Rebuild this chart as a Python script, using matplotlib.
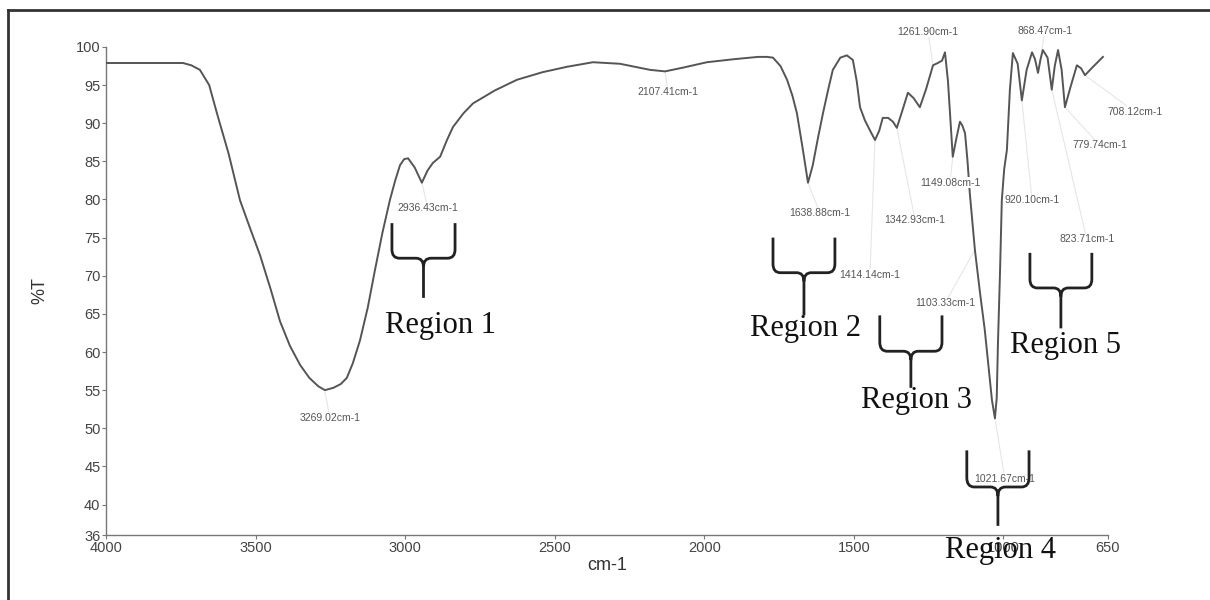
import matplotlib.pyplot as plt
from matplotlib.path import Path
from matplotlib.patches import PathPatch
from matplotlib.lines import Line2D

# FTIR spectrum (wavenumber cm-1, %T)
wavenumber = [4000, 3900, 3800, 3743, 3715, 3686, 3655, 3629, 3590, 3552, 3518, 3485, 3450,
              3418, 3385, 3351, 3320, 3290, 3268, 3240, 3215, 3195, 3175, 3151, 3125,
              3101, 3076, 3051, 3033, 3017, 3003, 2990, 2968, 2944, 2925, 2907, 2883,
              2860, 2840, 2805, 2773, 2700, 2626, 2540, 2459, 2372, 2282, 2220, 2181,
              2131, 2070, 1991, 1900, 1820, 1790, 1770, 1745, 1723, 1705, 1690, 1670,
              1653, 1637, 1620, 1603, 1585, 1570, 1545, 1523, 1503, 1490, 1479, 1463,
              1445, 1429, 1415, 1403, 1385, 1369, 1356, 1338, 1319, 1300, 1279, 1258,
              1235, 1219, 1205, 1195, 1185, 1169, 1157, 1145, 1137, 1128, 1120, 1112,
              1095, 1078, 1062, 1048, 1038, 1028, 1022, 1018, 1011, 1005, 997, 988,
              978, 968, 952, 938, 922, 904, 894, 884, 876, 868, 852, 838, 828, 817,
              805, 794, 775, 754, 740, 727, 700, 667]
transmittance = [97.9, 97.9, 97.9, 97.9, 97.6, 97.0, 95.0, 91.3, 86.0, 79.9, 76.2, 72.7, 68.3,
                 64.0, 60.8, 58.3, 56.6, 55.5, 55.0, 55.3, 55.8, 56.6, 58.5, 61.5, 65.8,
                 70.7, 75.6, 79.9, 82.5, 84.5, 85.3, 85.4, 84.2, 82.2, 83.8, 84.8, 85.6,
                 87.8, 89.5, 91.3, 92.6, 94.3, 95.7, 96.7, 97.4, 98.0, 97.8, 97.3, 97.0,
                 96.8, 97.3, 98.0, 98.4, 98.7, 98.7, 98.6, 97.5, 95.7, 93.6, 91.3, 86.5,
                 82.2, 84.5, 88.0, 91.3, 94.5, 97.0, 98.6, 98.9, 98.3, 95.5, 92.1, 90.4,
                 89.0, 87.8, 89.0, 90.7, 90.7, 90.2, 89.4, 91.6, 94.0, 93.3, 92.1, 94.5,
                 97.6, 97.9, 98.2, 99.3, 95.5, 85.6, 88.0, 90.2, 89.7, 88.7, 85.2, 80.8,
                 73.4, 67.8, 62.9, 57.5, 53.7, 51.3, 54.0, 61.0, 70.5, 79.9, 84.0, 86.5,
                 94.4, 99.2, 97.8, 93.0, 97.0, 99.3, 98.4, 96.6, 98.3, 99.6, 98.6, 94.4,
                 97.5, 99.6, 97.0, 92.1, 94.8, 97.6, 97.2, 96.3, 97.4, 98.7]

peak_labels = ['3269.02cm-1', '2936.43cm-1', '2107.41cm-1', '1638.88cm-1', '1414.14cm-1',
               '1342.93cm-1', '1261.90cm-1', '1149.08cm-1', '1103.33cm-1', '1021.67cm-1',
               '920.10cm-1', '868.47cm-1', '823.71cm-1', '779.74cm-1', '708.12cm-1']
label_x = [3251, 2924, 2121, 1613, 1446, 1295, 1252, 1178, 1195, 995, 904, 861, 721, 677, 560]
label_y = [51.3, 78.9, 94.1, 78.2, 70.1, 77.3, 102.0, 82.2, 66.4, 43.4, 79.9, 102.1, 74.8, 87.1, 91.5]
peak_x = [3269, 2944, 2131, 1653, 1429, 1356, 1235, 1169, 1095, 1028, 938, 884, 838, 794, 727]
peak_y = [55.0, 82.2, 96.8, 82.2, 87.8, 89.4, 97.6, 85.6, 73.4, 51.3, 93.0, 96.6, 94.4, 92.1, 96.3]

region_names = ['Region 1', 'Region 2', 'Region 3', 'Region 4', 'Region 5']
# brace: left, right, top, bar, bottom ; text x, text y
brace_left = [3044, 1770, 1413, 1122, 911]
brace_right = [2833, 1563, 1205, 914, 704]
brace_top = [76.9, 75.0, 64.8, 47.1, 73.0]
brace_bar = [72.3, 70.4, 60.1, 42.3, 68.4]
brace_bot = [67.1, 64.8, 55.3, 37.2, 63.1]
text_x = [2883, 1663, 1289, 1011, 791]
text_y = [63.5, 63.1, 53.7, 34.0, 60.9]

fig = plt.figure(figsize=(12.1, 6), dpi=100)
ax = fig.add_axes([0.0876, 0.1083, 0.8281, 0.8134])

ax.plot(wavenumber, transmittance, color='#555555', lw=1.4, solid_joinstyle='round', zorder=3)

ax.set_xlim(4000, 650)
ax.set_ylim(36, 100)
ax.set_xticks([4000, 3500, 3000, 2500, 2000, 1500, 1000, 650])
ax.set_yticks([36, 40, 45, 50, 55, 60, 65, 70, 75, 80, 85, 90, 95, 100])
for s in ['top', 'right']:
    ax.spines[s].set_visible(False)
for s in ['left', 'bottom']:
    ax.spines[s].set_color('#777777')
    ax.spines[s].set_linewidth(1.0)
ax.tick_params(direction='out', length=3, color='#777777', labelsize=10.5,
               labelcolor='#444444', pad=1)
for t in ax.get_xticklabels() + ax.get_yticklabels():
    t.set_family('Liberation Sans')
ax.set_xlabel('cm-1', fontsize=13, family='Liberation Sans', color='#333333', labelpad=2)
ax.set_ylabel('%T', fontsize=13, family='Liberation Sans', color='#333333', labelpad=20)

# faint leader lines and peak labels
for lab, x, y, px, py in zip(peak_labels, label_x, label_y, peak_x, peak_y):
    ax.plot([px, x], [py, y], color='#e6e6e6', lw=0.8, zorder=1, clip_on=False)
    ax.text(x, y, lab, fontsize=7.5, color='#555555', ha='center', va='center',
            family='Liberation Sans', clip_on=False, zorder=4,
            bbox=dict(boxstyle='square,pad=0.05', fc='white', ec='none'))

for i, name in enumerate(region_names):
    L, R = brace_left[i], brace_right[i]
    C = (L + R) / 2
    top, bar, bot = brace_top[i], brace_bar[i], brace_bot[i]
    dx = (L - R) * 0.12
    dy = (top - bar) * 0.25
    verts = [(L, top), (L, bar + dy), (L, bar), (L - dx, bar), (C + dx, bar), (C, bar),
             (C, bar - dy), (C, bot), (C, bar - dy), (C, bar), (C - dx, bar),
             (R + dx, bar), (R, bar), (R, bar + dy), (R, top)]
    codes = [Path.MOVETO, Path.LINETO, Path.CURVE3, Path.CURVE3, Path.LINETO, Path.CURVE3,
             Path.CURVE3, Path.LINETO, Path.MOVETO, Path.CURVE3, Path.CURVE3,
             Path.LINETO, Path.CURVE3, Path.CURVE3, Path.LINETO]
    ax.add_patch(PathPatch(Path(verts, codes), fill=False, lw=2, ec='#222222',
                           clip_on=False, zorder=5))
    ax.text(text_x[i], text_y[i], name, fontsize=22, family='Liberation Serif',
            color='#111111', ha='center', va='center', clip_on=False, zorder=5)

# outer frame of the figure
fig.add_artist(Line2D([8 / 1210, 8 / 1210], [0, 1 - 10 / 600], color='#333333', lw=2))
fig.add_artist(Line2D([8 / 1210, 1], [1 - 10 / 600, 1 - 10 / 600], color='#333333', lw=2))

fig.savefig('out.png', dpi=100)
